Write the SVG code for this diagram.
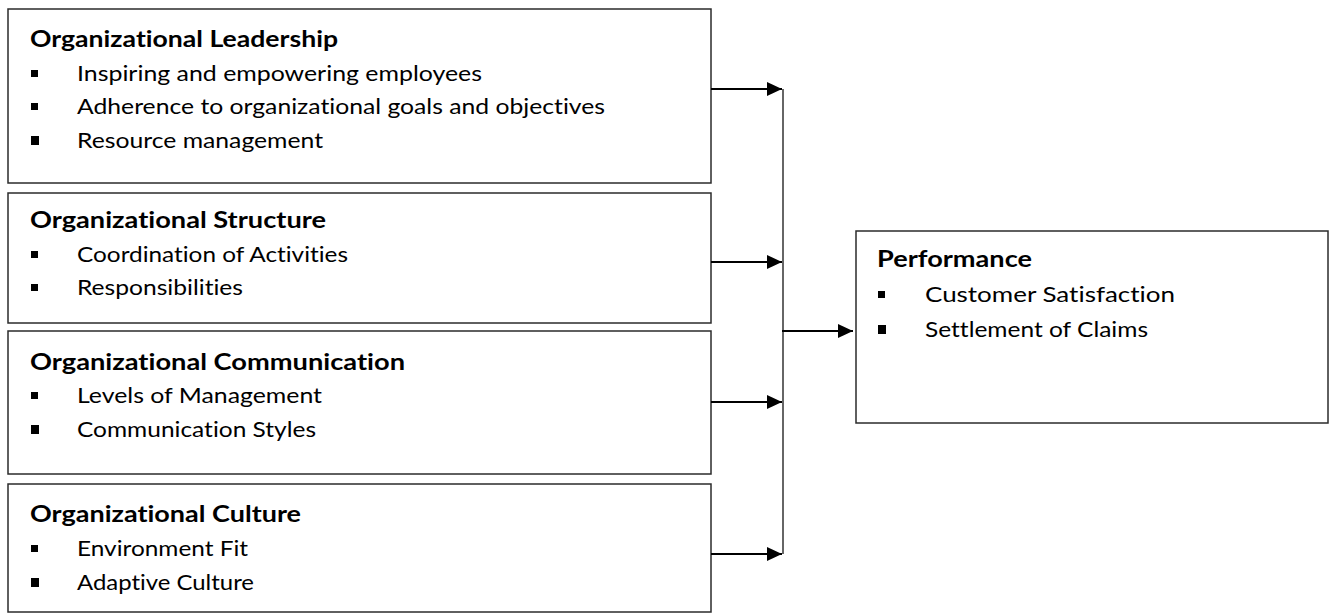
<svg xmlns="http://www.w3.org/2000/svg" width="1330" height="616" viewBox="0 0 1330 616">
  <style>
    .box { fill: #ffffff; stroke: #2b2b2b; stroke-width: 1.5; }
    .title { font-family: Lato, "Open Sans", "Liberation Sans", sans-serif; font-weight: bold; font-size: 22px; fill: #000; font-variant-ligatures: none; }
    .item { font-family: Lato, "Open Sans", "Liberation Sans", sans-serif; font-size: 22px; fill: #000; font-variant-ligatures: none; }
    .bullet { fill: #000; }
    .conn { stroke: #000; stroke-width: 2; fill: none; }
    .bus { stroke: #333; stroke-width: 1.5; fill: none; }
  </style>
  <defs>
    <marker id="arrow" viewBox="0 0 15 14" refX="15" refY="7" markerWidth="15" markerHeight="14" markerUnits="userSpaceOnUse" orient="auto">
      <path d="M0,0 L15,7 L0,14 Z" fill="#000"/>
    </marker>
  </defs>

  <rect width="1330" height="616" fill="#ffffff"/>

  <!-- Leadership -->
  <g id="leadership">
    <rect class="box" x="8" y="9" width="703" height="174"/>
    <text class="title" x="30" y="47" textLength="308" lengthAdjust="spacingAndGlyphs">Organizational Leadership</text>
    <rect class="bullet" x="31" y="70" width="7" height="7"/>
    <text class="item" x="77" y="81" textLength="405" lengthAdjust="spacingAndGlyphs">Inspiring and empowering employees</text>
    <rect class="bullet" x="31" y="103" width="7" height="7"/>
    <text class="item" x="77" y="114" textLength="528" lengthAdjust="spacingAndGlyphs">Adherence to organizational goals and objectives</text>
    <rect class="bullet" x="31" y="136" width="8" height="9"/>
    <text class="item" x="77" y="148" textLength="246" lengthAdjust="spacingAndGlyphs">Resource management</text>
  </g>

  <!-- Structure -->
  <g id="structure">
    <rect class="box" x="8" y="193" width="703" height="130"/>
    <text class="title" x="30" y="228" textLength="296" lengthAdjust="spacingAndGlyphs">Organizational Structure</text>
    <rect class="bullet" x="31" y="251" width="7" height="7"/>
    <text class="item" x="77" y="262" textLength="271" lengthAdjust="spacingAndGlyphs">Coordination of Activities</text>
    <rect class="bullet" x="31" y="284" width="7" height="7"/>
    <text class="item" x="77" y="295" textLength="166" lengthAdjust="spacingAndGlyphs">Responsibilities</text>
  </g>

  <!-- Communication -->
  <g id="communication">
    <rect class="box" x="8" y="331" width="703" height="143"/>
    <text class="title" x="30" y="370" textLength="375" lengthAdjust="spacingAndGlyphs">Organizational Communication</text>
    <rect class="bullet" x="31" y="392" width="7" height="7"/>
    <text class="item" x="77" y="403" textLength="245" lengthAdjust="spacingAndGlyphs">Levels of Management</text>
    <rect class="bullet" x="31" y="425" width="8" height="9"/>
    <text class="item" x="77" y="437" textLength="239" lengthAdjust="spacingAndGlyphs">Communication Styles</text>
  </g>

  <!-- Culture -->
  <g id="culture">
    <rect class="box" x="8" y="484" width="703" height="128"/>
    <text class="title" x="30" y="522" textLength="271" lengthAdjust="spacingAndGlyphs">Organizational Culture</text>
    <rect class="bullet" x="31" y="545" width="7" height="7"/>
    <text class="item" x="77" y="556" textLength="171" lengthAdjust="spacingAndGlyphs">Environment Fit</text>
    <rect class="bullet" x="31" y="578" width="8" height="9"/>
    <text class="item" x="77" y="590" textLength="177" lengthAdjust="spacingAndGlyphs">Adaptive Culture</text>
  </g>

  <!-- Performance -->
  <g id="performance">
    <rect class="box" x="856" y="231" width="472" height="192"/>
    <text class="title" x="877" y="267" textLength="155" lengthAdjust="spacingAndGlyphs">Performance</text>
    <rect class="bullet" x="878" y="291" width="7" height="7"/>
    <text class="item" x="925" y="302" textLength="250" lengthAdjust="spacingAndGlyphs">Customer Satisfaction</text>
    <rect class="bullet" x="878" y="325" width="8" height="9"/>
    <text class="item" x="925" y="337" textLength="223" lengthAdjust="spacingAndGlyphs">Settlement of Claims</text>
  </g>

  <!-- Connectors -->
  <g id="connectors">
    <line class="conn" x1="711" y1="89" x2="782" y2="89" marker-end="url(#arrow)"/>
    <line class="conn" x1="711" y1="262" x2="782" y2="262" marker-end="url(#arrow)"/>
    <line class="conn" x1="711" y1="402" x2="782" y2="402" marker-end="url(#arrow)"/>
    <line class="conn" x1="711" y1="554" x2="782" y2="554" marker-end="url(#arrow)"/>
    <line class="bus" x1="783" y1="89" x2="783" y2="554"/>
    <line class="conn" x1="782" y1="331" x2="853" y2="331" marker-end="url(#arrow)"/>
  </g>
</svg>
